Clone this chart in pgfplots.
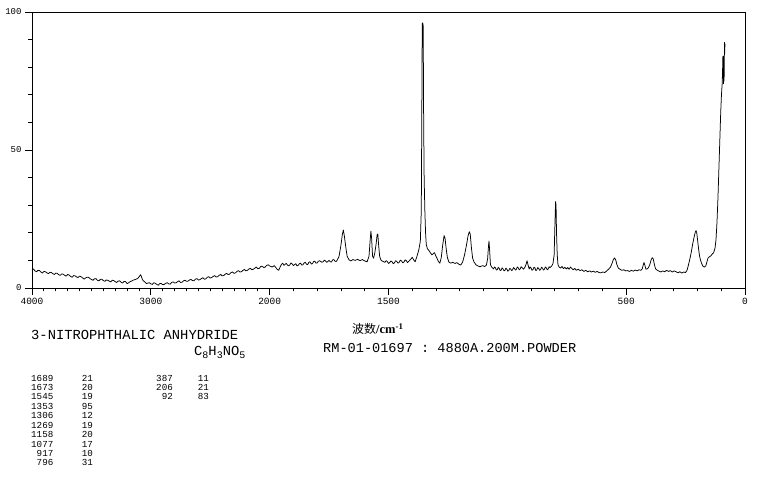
\documentclass[border=0pt]{standalone}
\usepackage{fontspec}
\setmainfont{Liberation Sans}
\setmonofont{Liberation Mono}
\newfontfamily\cjk{Noto Sans CJK SC}
\newfontfamily\serifb{Liberation Serif}
\usepackage{pgfplots}
\pgfplotsset{compat=1.18}
\usepackage{pgfplotstable}

\pgfplotstableread{
w i
4000 6.6
3987 6.9
3975 6.2
3962 5.9
3950 6.4
3937 6.3
3925 5.8
3912 5.4
3900 6.0
3887 5.9
3875 5.5
3862 5.2
3850 5.7
3837 5.6
3825 5.2
3812 4.9
3800 5.4
3787 5.3
3775 4.8
3762 4.6
3750 5.1
3737 5.0
3725 4.6
3712 4.3
3700 4.9
3687 4.7
3675 4.2
3662 3.9
3650 4.5
3637 4.4
3625 4.0
3612 3.8
3600 4.3
3587 4.1
3575 3.7
3562 3.2
3550 3.6
3537 3.9
3525 3.9
3512 3.4
3500 3.1
3487 2.8
3475 3.3
3462 3.4
3450 2.8
3437 2.6
3425 3.1
3412 3.2
3400 2.7
3387 2.4
3375 2.9
3362 2.8
3350 2.5
3337 2.2
3325 2.8
3312 2.7
3300 2.3
3287 2.0
3275 2.5
3262 2.6
3250 2.1
3237 1.8
3225 2.4
3212 2.3
3200 1.6
3187 1.9
3175 2.3
3162 2.5
3150 2.8
3137 3.0
3125 3.2
3112 3.4
3100 4.0
3085 4.8
3070 3.0
3060 2.5
3050 2.2
3037 1.6
3025 1.8
3012 1.9
3000 1.5
2987 1.3
2975 1.9
2962 1.7
2950 1.3
2937 1.0
2925 1.6
2912 1.6
2900 1.2
2887 1.3
2875 1.7
2862 1.9
2850 1.5
2837 1.4
2825 2.0
2812 2.2
2800 1.8
2787 1.9
2775 2.3
2762 2.6
2750 2.0
2737 2.1
2725 2.6
2712 2.8
2700 2.4
2687 2.5
2675 2.9
2662 3.1
2650 2.7
2637 2.6
2625 3.2
2612 3.4
2600 2.9
2587 3.0
2575 3.4
2562 3.7
2550 3.2
2537 3.3
2525 3.9
2512 4.1
2500 3.6
2487 3.8
2475 4.2
2462 4.5
2450 4.0
2437 4.1
2425 4.6
2412 4.9
2400 4.4
2387 4.5
2375 5.0
2362 5.3
2350 4.9
2337 5.0
2325 5.6
2312 5.8
2300 5.3
2287 5.5
2275 6.0
2262 6.3
2250 5.8
2237 5.9
2225 6.4
2212 6.7
2200 6.2
2187 6.4
2175 6.9
2162 7.1
2150 6.6
2137 6.8
2125 7.2
2112 7.6
2100 7.0
2087 7.1
2075 7.8
2062 7.9
2050 7.4
2037 7.6
2025 8.2
2012 8.4
2000 8.0
1990 7.6
1980 8.1
1970 6.9
1962 6.4
1955 7.8
1950 8.6
1945 9.0
1940 8.2
1935 8.6
1930 8.9
1925 8.3
1920 8.0
1915 8.4
1910 9.1
1905 8.7
1900 8.1
1895 8.5
1890 8.8
1885 8.0
1880 8.2
1875 8.8
1870 9.0
1865 8.3
1860 8.4
1855 9.1
1850 9.3
1845 8.6
1840 8.5
1835 9.3
1830 9.5
1825 8.7
1820 8.8
1815 9.6
1810 9.7
1805 9.0
1800 9.1
1795 9.7
1790 9.9
1785 9.6
1780 9.3
1775 9.5
1770 10.1
1765 9.8
1760 9.3
1755 9.6
1750 10.0
1745 9.5
1740 9.4
1735 10.2
1730 10.3
1725 9.7
1720 9.6
1715 10.2
1708 11.5
1700 15.5
1694 19.5
1690 21.0
1686 19.0
1680 15.0
1674 11.5
1666 10.2
1658 9.8
1650 10.3
1640 10.0
1630 10.4
1620 9.9
1610 10.3
1600 9.8
1590 9.5
1582 11.5
1577 17.5
1574 20.6
1571 18.0
1567 11.5
1563 10.8
1558 12.5
1552 16.0
1548 19.2
1545 19.6
1541 15.0
1537 11.4
1531 10.0
1522 9.6
1515 9.3
1510 9.9
1505 9.6
1500 8.9
1495 9.2
1490 9.8
1485 9.5
1480 8.8
1475 9.1
1470 9.9
1465 9.6
1460 9.0
1455 9.3
1450 10.1
1445 9.8
1440 9.1
1435 9.4
1430 10.2
1425 9.9
1420 9.2
1415 9.6
1407 10.4
1400 11.1
1394 10.2
1388 9.5
1380 11.5
1372 14.0
1366 17.0
1362 28.0
1360 60.0
1358 96.0
1356 96.0
1354 95.0
1352 60.0
1350 40.0
1347 28.0
1344 20.0
1341 15.7
1336 14.2
1330 13.6
1324 12.8
1317 12.0
1310 12.6
1306 12.8
1302 11.8
1296 10.8
1290 9.6
1284 9.0
1278 11.0
1272 15.5
1266 19.0
1262 18.0
1257 14.0
1252 11.0
1246 9.4
1238 9.0
1230 9.3
1220 8.9
1212 9.2
1204 8.6
1196 8.3
1188 9.4
1180 12.0
1172 15.5
1165 19.0
1160 20.4
1156 19.5
1151 14.5
1146 10.8
1140 9.4
1132 8.4
1124 8.0
1115 7.7
1105 8.1
1095 7.8
1088 8.3
1083 10.5
1079 15.5
1077 17.0
1074 13.0
1071 8.4
1066 7.6
1058 6.9
1054 7.6
1050 7.3
1046 6.5
1042 6.7
1038 7.5
1034 7.1
1030 6.3
1026 6.5
1022 7.3
1018 6.9
1014 6.2
1010 6.4
1006 7.2
1002 6.8
998 6.1
994 6.3
990 7.1
986 6.9
982 6.3
978 6.6
974 7.4
970 7.1
966 6.5
962 6.8
958 7.6
954 7.3
950 6.6
946 6.9
942 7.7
938 7.4
932 6.8
926 7.5
921 8.6
917 9.9
913 8.4
908 6.9
904 7.6
900 7.2
896 6.4
892 6.7
888 7.5
884 7.3
880 6.3
876 6.6
872 7.4
868 7.1
864 6.4
860 6.7
856 7.5
852 7.2
848 6.5
844 6.8
840 7.6
836 7.3
832 6.6
828 6.9
824 7.7
820 7.4
814 7.9
808 8.8
803 12.0
800 22.0
797 31.3
795 30.0
793 20.0
790 12.0
787 8.5
782 7.6
776 7.2
770 7.8
764 7.0
758 7.5
752 6.9
746 7.4
740 6.8
734 7.6
728 7.0
722 6.6
716 7.1
710 6.4
702 6.8
694 6.3
686 6.6
678 6.0
670 6.4
662 5.9
654 6.2
646 5.8
638 6.1
630 5.7
622 6.0
614 5.6
606 5.5
598 5.8
590 5.6
582 6.2
574 6.8
566 7.6
560 8.8
554 10.3
549 10.9
544 10.2
539 8.5
533 7.2
526 6.8
518 6.4
510 6.6
502 6.2
494 6.3
486 6.0
478 6.4
470 6.1
462 6.5
454 6.2
446 6.6
438 6.4
432 7.0
428 8.4
425 9.2
421 8.2
417 6.8
412 6.9
406 7.4
400 8.6
395 10.2
390 11.0
386 10.5
381 8.4
376 6.9
370 6.5
362 6.1
354 5.8
346 6.2
338 5.9
330 6.4
322 6.0
314 6.3
306 5.8
298 6.2
290 5.9
282 5.5
274 5.9
266 5.4
258 5.8
250 5.6
244 6.4
238 8.3
232 10.5
226 13.0
220 16.0
214 18.5
209 20.3
206 20.8
203 20.0
199 17.0
195 14.0
191 11.5
186 9.8
181 8.6
176 7.8
170 7.6
165 8.0
160 9.5
156 10.8
150 11.3
144 11.6
138 12.3
132 12.8
126 14.5
122 17.5
118 23.5
114 32.0
111 40.0
108 48.0
105 56.0
102 64.0
99 70.0
96 74.0
94 80.0
93 84.0
92 76.0
91 83.0
90 74.0
89 84.0
88 75.0
87 83.0
86 89.0
85 85.0
84.5 88.5
}\spec

\begin{document}
\begin{tikzpicture}
\useasboundingbox (0,0) rectangle (761pt,477pt);
\begin{axis}[
  at={(32pt,189pt)}, anchor=south west,
  scale only axis, width=713pt, height=276pt,
  x dir=reverse, xmin=0, xmax=3000, ymin=0, ymax=100,
  xtick={0,500,1500,2000,2500,3000},
  xticklabels={0,500,1500,2000,3000,4000},
  minor xtick={100,200,300,400,600,700,800,900,1000,1100,1200,1300,1400,1600,1700,1800,1900,2050,2100,2150,2200,2250,2300,2350,2400,2450,2550,2600,2650,2700,2750,2800,2850,2900,2950},
  ytick={0,50,100}, minor ytick={10,20,30,40,60,70,80,90},
  tick align=outside, xtick pos=bottom, ytick pos=left,
  major tick length=7pt, minor tick length=3.5pt,
  axis line style={line width=0.9pt},
  every tick/.style={black, line width=0.8pt},
  tick label style={font=\ttfamily\fontsize{9.5}{10}\selectfont},
  yticklabel style={font=\ttfamily\fontsize{9}{10}\selectfont},
  /pgf/number format/assume math mode=true,
  scaled ticks=false,
]
\addplot[black, line width=0.75pt, line join=round] table[x expr={min(\thisrow{w},2000)+max(\thisrow{w}-2000,0)/2}, y=i] {\spec};
\end{axis}
\node[anchor=west, inner sep=0pt, font=\ttfamily\fontsize{13.8}{14}\selectfont] at (31pt,142.5pt) {3-NITROPHTHALIC ANHYDRIDE};
\node[anchor=base west, inner sep=0pt, font=\ttfamily\fontsize{13.8}{14}\selectfont] at (194pt,121pt) {C\raisebox{-2.5pt}{\fontsize{10}{10}\selectfont 8}H\raisebox{-2.5pt}{\fontsize{10}{10}\selectfont 3}NO\raisebox{-2.5pt}{\fontsize{10}{10}\selectfont 5}};
\node[anchor=west, inner sep=0pt, font=\ttfamily\fontsize{13.6}{14}\selectfont] at (323pt,128.5pt) {RM-01-01697 : 4880A.200M.POWDER};
\node[anchor=west, inner sep=0pt] at (352pt,148pt) {{\cjk\fontsize{12}{13}\selectfont 波数}{\serifb\bfseries\fontsize{12.5}{13}\selectfont /cm\textsuperscript{-1}}};
\foreach \a/\b [count=\i] in {1689/21,1673/20,1545/19,1353/95,1306/12,1269/19,1158/20,1077/17,917/10,796/31} {
  \node[anchor=east, inner sep=0pt, font=\ttfamily\fontsize{9.2}{9}\selectfont] at (53.5pt,{99pt-(\i-1)*9.44pt}) {\a};
  \node[anchor=east, inner sep=0pt, font=\ttfamily\fontsize{9.2}{9}\selectfont] at (93pt,{99pt-(\i-1)*9.44pt}) {\b};
}
\foreach \a/\b [count=\i] in {387/11,206/21,92/83} {
  \node[anchor=east, inner sep=0pt, font=\ttfamily\fontsize{9.2}{9}\selectfont] at (173pt,{99pt-(\i-1)*9.44pt}) {\a};
  \node[anchor=east, inner sep=0pt, font=\ttfamily\fontsize{9.2}{9}\selectfont] at (209pt,{99pt-(\i-1)*9.44pt}) {\b};
}
\end{tikzpicture}
\end{document}
